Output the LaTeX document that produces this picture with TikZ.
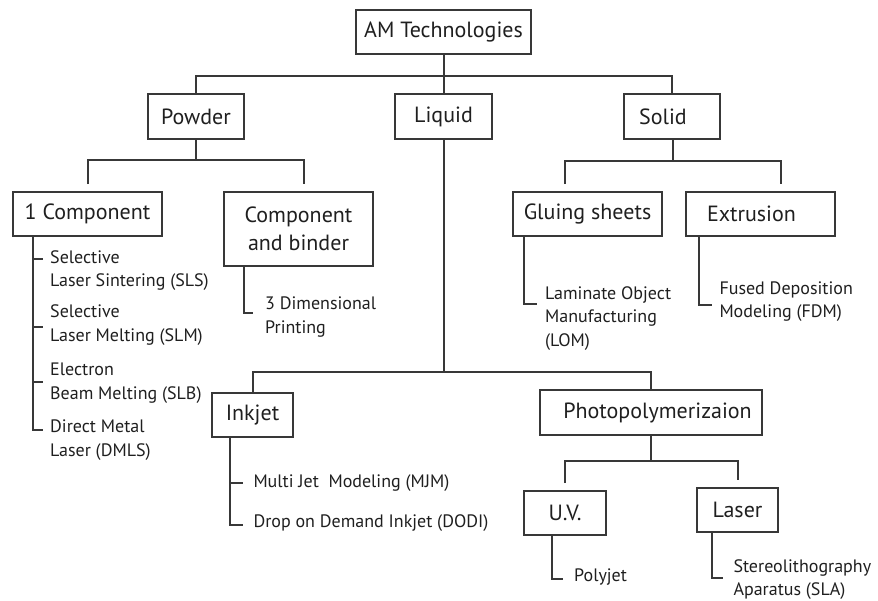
\documentclass[tikz,border=0pt]{standalone}
\usepackage{fontspec}
\setmainfont{PT Sans}
\begin{document}
\begin{tikzpicture}[x=1pt,y=-1pt,
  box/.style={draw=black!78, line width=2pt, rectangle, inner sep=0pt,
    text=black!88, font=\fontsize{22}{28}\selectfont},
  leaf/.style={anchor=west, inner sep=0pt, align=left, text=black!88,
    font=\fontsize{18}{23.3}\selectfont},
  wire/.style={draw=black!78, line width=2pt}]
\useasboundingbox (0,0) rectangle (878,600);

% category boxes (a negative \hspace* nudges a label off-centre inside its box)
\node[box, minimum width=175, minimum height=44] (am)      at (443.5,32)  {AM Technologies};
\node[box, minimum width=96,  minimum height=45] (powder)  at (196,116.5) {Powder};
\node[box, minimum width=97,  minimum height=45] (liquid)  at (443.5,116.5) {Liquid};
\node[box, minimum width=96,  minimum height=45] (solid)   at (672,116.5) {\hspace*{-18pt}Solid};
\node[box, minimum width=149, minimum height=44] (onecomp) at (87.5,214)  {1 Component};
\node[box, minimum width=149, minimum height=74, align=center] (compbind) at (298.5,229) {Component\\and binder};
\node[box, minimum width=149, minimum height=44] (gluing)  at (587.5,214) {Gluing sheets};
\node[box, minimum width=149, minimum height=44] (extr)    at (760.5,214) {\hspace*{-18pt}Extrusion};
\node[box, minimum width=81,  minimum height=44] (inkjet)  at (252.5,415) {Inkjet};
\node[box, minimum width=222, minimum height=45] (photo)   at (651,412.5) {Photopolymerizaion\hspace*{-13pt}};
\node[box, minimum width=82,  minimum height=44] (uv)      at (565,513)   {U.V.};
\node[box, minimum width=81,  minimum height=44] (laser)   at (737.5,510) {Laser};

% process lists
\node[leaf] (sls)  at (50,270.7)  {Selective\\Laser Sintering (SLS)};
\node[leaf] (slm)  at (50,325)    {Selective\\Laser Melting (SLM)};
\node[leaf] (slb)  at (50,383.3)  {Electron\\Beam Melting (SLB)};
\node[leaf] (dmls) at (50,440)    {Direct Metal\\Laser (DMLS)};
\node[leaf] (tdp)  at (265,317)   {3 Dimensional\\Printing};
\node[leaf] (lom)  at (545,318.3) {Laminate Object\\Manufacturing\\(LOM)};
\node[leaf] (fdm)  at (719.3,301.7) {Fused Deposition\\Modeling (FDM)};
\node[leaf] (mjm)  at (253.3,483) {Multi Jet\ \ Modeling (MJM)};
\node[leaf] (dodi) at (253.3,522.7) {Drop on Demand Inkjet (DODI)};
\node[leaf] (pjet) at (574,576.7) {Polyjet};
\node[leaf] (sla)  at (733.3,579.5) {Stereolithography\\Aparatus (SLA)};

% junction points of the tree
\coordinate (amj) at (443.5,76);
\coordinate (pj)  at (196,160);
\coordinate (pl)  at (88,184);
\coordinate (pr)  at (304,184);
\coordinate (sj)  at (673,161);
\coordinate (sl)  at (565,184);
\coordinate (sr)  at (781,184);
\coordinate (lj)  at (443.5,372);
\coordinate (phj) at (651,461);
\coordinate (ul)  at (565,483);
\coordinate (lr)  at (738,480);

% main branches
\draw[wire] (am) -- (liquid);
\draw[wire] (powder.north) -- (powder.north |- amj) -- (solid.north |- amj) -- (solid.north);
\draw[wire] (powder) -- (pj);
\draw[wire] (pl) -- (pl |- pj) -- (pr |- pj) -- (pr);
\draw[wire] (sj |- solid.south) -- (sj);
\draw[wire] (sl) -- (sl |- sj) -- (sr |- sj) -- (sr);
\draw[wire] (liquid) -- (lj);
\draw[wire] (inkjet.north) -- (inkjet.north |- lj) -- (photo.north |- lj) -- (photo.north);
\draw[wire] (photo) -- (phj);
\draw[wire] (ul) -- (ul |- phj) -- (lr |- phj) -- (lr);

% list brackets: 1 Component
\coordinate (oc0) at (33.3,236);
\coordinate (oc1) at (43.3,259.3);
\coordinate (oc2) at (43.3,326.7);
\coordinate (oc3) at (43.3,381.7);
\coordinate (oc4) at (43.3,430);
\draw[wire] (oc0) -- (oc0 |- oc4) -- (oc4);
\draw[wire] (oc0 |- oc1) -- (oc1);
\draw[wire] (oc0 |- oc2) -- (oc2);
\draw[wire] (oc0 |- oc3) -- (oc3);

% list brackets: single entries
\coordinate (cb0) at (244.3,266);   \coordinate (cb1) at (253,313.3);
\draw[wire] (cb0) -- (cb0 |- cb1) -- (cb1);
\coordinate (gl0) at (524.3,236);   \coordinate (gl1) at (537,304);
\draw[wire] (gl0) -- (gl0 |- gl1) -- (gl1);
\coordinate (ex0) at (699,236);     \coordinate (ex1) at (712,305);
\draw[wire] (ex0) -- (ex0 |- ex1) -- (ex1);
\coordinate (ij0) at (230,437);     \coordinate (ij1) at (243.3,483.3);
\coordinate (ij2) at (243.3,525);
\draw[wire] (ij0) -- (ij0 |- ij2) -- (ij2);
\draw[wire] (ij0 |- ij1) -- (ij1);
\coordinate (uv0) at (552.3,535);   \coordinate (uv1) at (563.3,579.3);
\draw[wire] (uv0) -- (uv0 |- uv1) -- (uv1);
\coordinate (la0) at (711.7,532);   \coordinate (la1) at (723.3,578.3);
\draw[wire] (la0) -- (la0 |- la1) -- (la1);
\end{tikzpicture}
\end{document}
